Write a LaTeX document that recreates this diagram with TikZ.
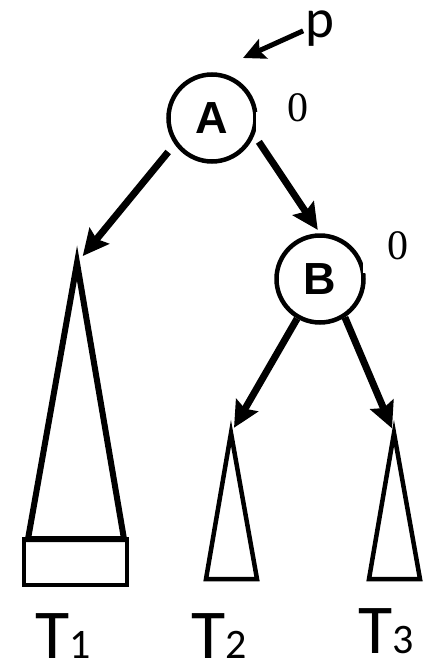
\documentclass[tikz,border=0pt]{standalone}
\usepackage{fontspec}
\setmainfont{Carlito}
\newfontfamily\labelsans{Liberation Sans}
\newfontfamily\digitserif{Liberation Serif}
\newcommand\subdigit{\fontsize{42}{42}\selectfont}
\usetikzlibrary{arrows.meta}
\begin{document}
\begin{tikzpicture}[x=1pt,y=-1pt,
  treenode/.style={circle,draw,line width=4.5pt,minimum size=87pt,inner sep=0pt,fill=white,
    font=\labelsans\bfseries\fontsize{45}{45}\selectfont},
  edge/.style={line width=7pt,-{Stealth[length=26pt,width=25pt,inset=4pt]}},
  subtree/.style={line width=6pt,line join=miter},
  smalltree/.style={line width=4.5pt,line join=miter},
  balance/.style={font=\digitserif\fontsize{42}{42}\selectfont,inner sep=0pt},
  treelabel/.style={font=\fontsize{70}{70}\selectfont,inner sep=0pt,anchor=base west,
    text height=46pt,text depth=0pt}]
\useasboundingbox (0,0) rectangle (424,664);
% internal nodes
\node[treenode] (a) at (212,118) {A};
\node[treenode] (b) at (320,279) {B};
% balance factors; their white ground trims the circle's edge
\fill[white] (256,112) rectangle (335,133);
\fill[white] (363,258) rectangle (424,273);
\node[balance] (ba) at (298,108) {0};
\node[balance] (bb) at (398,246) {0};
% pointer p
\node[font=\fontsize{55}{55}\selectfont,inner sep=0pt,anchor=base west,
  text height=26pt,text depth=12pt] (p) at (305,37) {p};
\coordinate (ptip) at (243,58);
\draw[line width=5pt,-{Stealth[length=22pt,width=21pt,inset=4pt]},shorten <=2pt] (p.west) -- (ptip);
% subtree roots
\coordinate (t1top) at (77,263);
\coordinate (t2top) at (231,433);
\coordinate (t3top) at (394,433);
% connectors
\draw[edge,shorten <=10pt,shorten >=9pt] (a.215) -- (t1top);
\draw[edge,shorten <=8pt,shorten >=4pt] (a.-22) -- (b.north);
\draw[edge,shorten >=6pt] (b.240) -- (t2top);
\draw[edge,shorten >=5pt] (b.303) -- (t3top);
% subtree T1 with its bottom block
\draw[subtree] (t1top) -- (28,539) -- (124,539) -- cycle;
\draw[line width=4.5pt] (24,539) rectangle (127,585);
% subtrees T2 and T3
\draw[smalltree] (t2top) -- (206,579) -- (257,579) -- cycle;
\draw[smalltree] (t3top) -- (369,579) -- (420,579) -- cycle;
% subtree labels
\node[treelabel] (l1) at (35,658) {T{\subdigit 1}};
\node[treelabel] (l2) at (191,658) {T{\subdigit 2}};
\node[treelabel] (l3) at (358,653) {T{\subdigit 3}};
\end{tikzpicture}
\end{document}
